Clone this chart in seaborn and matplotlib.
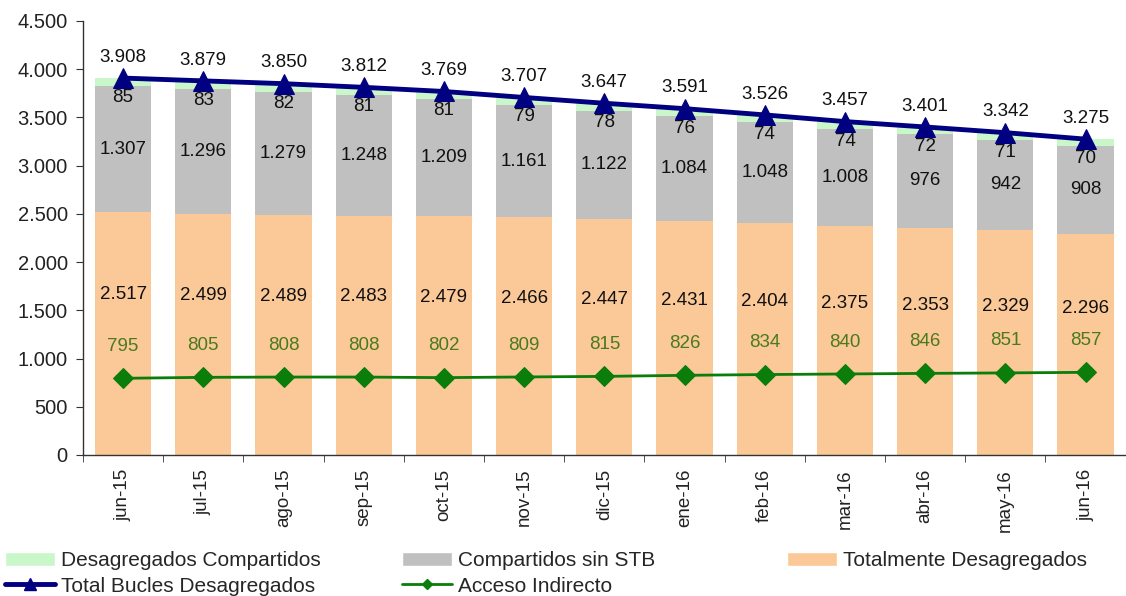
import numpy as np
import pandas as pd
import matplotlib
matplotlib.use('Agg')
import matplotlib.pyplot as plt
import seaborn as sns
from matplotlib.patches import Patch
from matplotlib.lines import Line2D

months = ['jun-15', 'jul-15', 'ago-15', 'sep-15', 'oct-15', 'nov-15', 'dic-15',
          'ene-16', 'feb-16', 'mar-16', 'abr-16', 'may-16', 'jun-16']
compartidos = [85, 83, 82, 81, 81, 79, 78, 76, 74, 74, 72, 71, 70]
sin_stb = [1307, 1296, 1279, 1248, 1209, 1161, 1122, 1084, 1048, 1008, 976, 942, 908]
totalmente = [2517, 2499, 2489, 2483, 2479, 2466, 2447, 2431, 2404, 2375, 2353, 2329, 2296]
total_bucles = [3908, 3879, 3850, 3812, 3769, 3707, 3647, 3591, 3526, 3457, 3401, 3342, 3275]
acceso_indirecto = [795, 805, 808, 808, 802, 809, 815, 826, 834, 840, 846, 851, 857]

c_green = '#c9f7c9'
c_gray = '#c0c0c0'
c_orange = '#fbc898'
c_navy = '#000080'
c_line_green = '#0a7d0a'
c_text_green = '#4a7a1c'

def fmt(v):
    return f'{v:,}'.replace(',', '.')

sns.set_style('white')
plt.rcParams['font.family'] = ['Liberation Sans', 'DejaVu Sans']

df = pd.DataFrame({'mes': months,
                   'ta': np.array(totalmente),
                   'tb': np.array(totalmente) + np.array(sin_stb),
                   'tc': np.array(totalmente) + np.array(sin_stb) + np.array(compartidos)})
x = np.arange(len(months))

fig = plt.figure(figsize=(11.26, 5.96), dpi=100)
ax = fig.add_axes([0.0737, 0.2366, 0.926, 0.7282])

for col, c in [('tc', c_green), ('tb', c_gray), ('ta', c_orange)]:
    sns.barplot(data=df, x='mes', y=col, color=c, width=0.7, saturation=1,
                linewidth=0, edgecolor='none', ax=ax)

sns.lineplot(x=x, y=total_bucles, color=c_navy, lw=3.5, marker='^', markersize=15,
             markeredgecolor=c_navy, ax=ax)
sns.lineplot(x=x, y=acceso_indirecto, color=c_line_green, lw=2, marker='D', markersize=10,
             markeredgecolor=c_line_green, ax=ax)

fs = 13.5
for i in range(len(months)):
    ax.annotate(fmt(total_bucles[i]), (x[i], total_bucles[i]), xytext=(0, 15),
                textcoords='offset points', ha='center', va='center', fontsize=fs, color='#111111')
    ax.annotate(fmt(compartidos[i]), (x[i], total_bucles[i]), xytext=(0, -14),
                textcoords='offset points', ha='center', va='center', fontsize=fs, color='#111111')
    ax.text(x[i], totalmente[i] + sin_stb[i] / 2, fmt(sin_stb[i]), ha='center', va='center',
            fontsize=fs, color='#111111')
    ax.text(x[i], totalmente[i] * 0.66, fmt(totalmente[i]), ha='center', va='center',
            fontsize=fs, color='#111111')
    ax.annotate(fmt(acceso_indirecto[i]), (x[i], acceso_indirecto[i]), xytext=(0, 23),
                textcoords='offset points', ha='center', va='center', fontsize=fs, color=c_text_green)

ax.set_ylim(0, 4500)
ax.set_xlim(-0.5, 12.5)
ax.set_yticks(np.arange(0, 4501, 500))
ax.set_yticklabels([fmt(v) for v in range(0, 4501, 500)], fontsize=14.5, color='#222222')
ax.set_xticks(x)
ax.set_xticklabels(months, rotation=90, fontsize=13.5, color='#222222')
ax.set_xticks(np.arange(-0.5, 13, 1), minor=True)
ax.tick_params(axis='x', which='major', length=0, pad=10)
ax.tick_params(axis='x', which='minor', length=5, color='#333333', direction='out', bottom=True)
ax.tick_params(axis='y', length=5, color='#333333', direction='out', left=True, pad=6)
ax.set_xlabel('')
ax.set_ylabel('')
for s in ['top', 'right']:
    ax.spines[s].set_visible(False)
for s in ['left', 'bottom']:
    ax.spines[s].set_color('#333333')
    ax.spines[s].set_linewidth(1)

# legend: three columns placed separately
columns = [
    ([Patch(facecolor=c_green, label='Desagregados Compartidos'),
      Line2D([0], [0], color=c_navy, lw=3.5, marker='^', markersize=8, label='Total Bucles Desagregados')], 0.004),
    ([Patch(facecolor=c_gray, label='Compartidos sin STB'),
      Line2D([0], [0], color=c_line_green, lw=2, marker='D', markersize=5, label='Acceso Indirecto')], 0.357),
    ([Patch(facecolor=c_orange, label='Totalmente Desagregados')], 0.699),
]
for hs, xa in columns:
    fig.legend(handles=hs, loc='upper left', bbox_to_anchor=(xa, 0.075), frameon=False,
               prop={'size': 15}, handlelength=2.4, handletextpad=0.3, labelspacing=0.3,
               borderaxespad=0, borderpad=0)

fig.savefig('out.png', dpi=100)
